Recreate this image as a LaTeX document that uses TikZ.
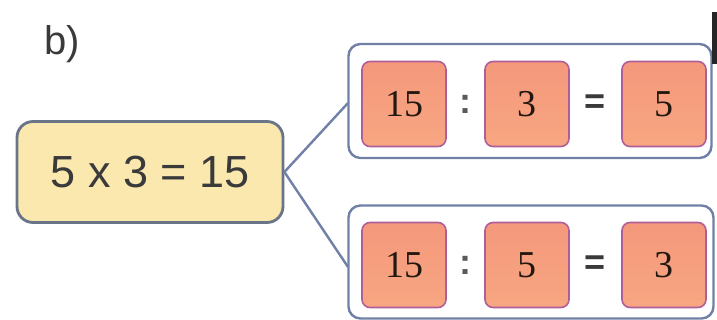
\documentclass[tikz,border=0pt]{standalone}
\usepackage{fontspec}
\setmainfont{Liberation Serif}
\setsansfont{Liberation Sans}
\begin{document}
\begin{tikzpicture}[x=1pt,y=-1pt,
  framebox/.style={draw=frameblue, line width=2.4pt, rounded corners=12pt, fill=white},
  yellowbox/.style={draw=framegray, line width=2.8pt, rounded corners=16pt, fill=boxyellow},
  numbox/.style={draw=pinkedge, line width=1.6pt, rounded corners=8pt, top color=salmonlight, bottom color=salmon, minimum width=84pt, minimum height=85pt, font=\fontsize{38}{40}\selectfont, text=textdark},
  sym/.style={font=\sffamily\fontsize{36}{40}\selectfont, text=textgray},
  link/.style={draw=frameblue, line width=2.4pt}]
\definecolor{frameblue}{HTML}{7080A6}
\definecolor{framegray}{HTML}{6A7488}
\definecolor{boxyellow}{HTML}{FAE8AE}
\definecolor{salmon}{HTML}{F7A682}
\definecolor{salmonlight}{HTML}{F5987C}
\definecolor{pinkedge}{HTML}{B05E98}
\definecolor{textdark}{HTML}{22180F}
\definecolor{textgray}{HTML}{3A3A3A}
\definecolor{colongray}{HTML}{5A5A5A}
\useasboundingbox (0,0) rectangle (717,320);
\fill[white] (0,0) rectangle (717,320);
% label
\node[font=\sffamily\fontsize{40}{42}\selectfont, text=textgray, anchor=west] (lbl) at (41,44) {b)};
% main box
\node[yellowbox, minimum width=266pt, minimum height=101pt, font=\sffamily\fontsize{45}{48}\selectfont, text=textgray] (main) at (150,172) {5 x 3 = 15};
% frames
\node[framebox, minimum width=363pt, minimum height=114pt] (top) at (530,101) {};
\node[framebox, minimum width=365pt, minimum height=113pt] (bot) at (531,262) {};
\coordinate (ta) at (348,103);
\coordinate (ba) at (348,267);
\draw[link] (ta) -- (main.east) -- (ba);
% top row
\node[numbox] (t1) at (404,104) {15};
\node[sym, text=colongray, font=\sffamily\bfseries\fontsize{36}{40}\selectfont] (tc) at (465,104) {:};
\node[numbox] (t2) at (527,104) {3};
\node[sym, font=\sffamily\bfseries\fontsize{36}{40}\selectfont] (te) at (595,104) {=};
\node[numbox] (t3) at (664,104) {5};
% bottom row
\node[numbox] (b1) at (404,265) {15};
\node[sym, text=colongray, font=\sffamily\bfseries\fontsize{36}{40}\selectfont] (bc) at (465,265) {:};
\node[numbox] (b2) at (527,265) {5};
\node[sym, font=\sffamily\bfseries\fontsize{36}{40}\selectfont] (be) at (595,265) {=};
\node[numbox] (b3) at (664,265) {3};
% edge bar
\fill[black!85] (712,12) rectangle (717,64);
\end{tikzpicture}
\end{document}
